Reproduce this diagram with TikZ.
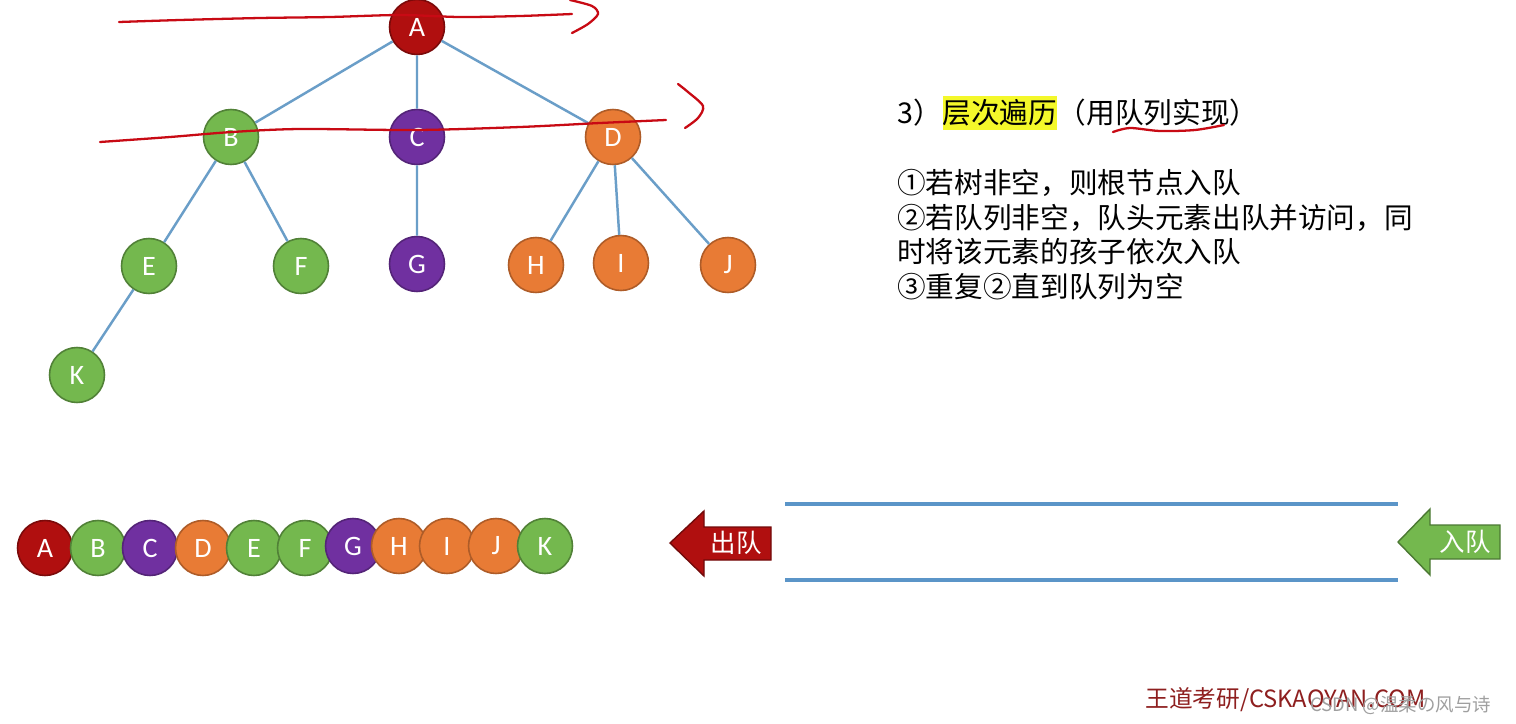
\documentclass[tikz,border=0pt]{standalone}
\usepackage{fontspec}
\setmainfont{Carlito}
\newfontfamily\cjk{Noto Sans CJK SC}
\usetikzlibrary{positioning}
\definecolor{nred}{HTML}{B00F0F}
\definecolor{ngreen}{HTML}{74B84E}
\definecolor{npurple}{HTML}{7030A0}
\definecolor{norange}{HTML}{E87B35}
\definecolor{edgeblue}{HTML}{6A9EC8}
\definecolor{qblue}{HTML}{5B95C8}
\definecolor{pen}{HTML}{C80A14}
\definecolor{hlyellow}{HTML}{F4F82A}
\definecolor{wmred}{HTML}{8E1F1F}
\tikzset{
  tnode/.style={circle, minimum size=1.1cm, inner sep=0pt, line width=0.9pt, text=white, font=\fontsize{16}{16}\selectfont},
  rednode/.style={tnode, fill=nred, draw=nred!70!black},
  greennode/.style={tnode, fill=ngreen, draw=ngreen!70!black},
  purplenode/.style={tnode, fill=npurple, draw=npurple!75!black},
  orangenode/.style={tnode, fill=norange, draw=norange!75!black},
  edge/.style={draw=edgeblue, line width=1.4pt},
  penline/.style={draw=pen, line width=1.3pt, line cap=round, line join=round},
  cjktext/.style={font=\cjk\fontsize{16.3}{19.8}\selectfont, inner sep=0pt, anchor=west},
}
\begin{document}
\begin{tikzpicture}[x=0.02cm, y=-0.02cm]
\useasboundingbox (0,0) rectangle (1516,724);
\fill[white] (0,0) rectangle (1516,724);

% tree
\node[rednode] (A) at (417,27) {A};
\node[greennode] (B) at (231,137) {B};
\node[purplenode] (C) at (417,137) {C};
\node[orangenode] (D) at (613,137) {D};
\node[greennode] (E) at (149,266) {E};
\node[greennode] (F) at (301,266) {F};
\node[purplenode] (G) at (417,264) {G};
\node[orangenode] (H) at (536,265) {H};
\node[orangenode] (I) at (621,263) {I};
\node[orangenode] (J) at (728,265) {J};
\node[greennode] (K) at (77,375) {K};
\path[edge] (A) -- (B) (A) -- (C) (A) -- (D)
  (B) -- (E) (B) -- (F) (C) -- (G)
  (D) -- (H) (D) -- (I) (D) -- (J) (E) -- (K);

% handwritten red strokes
\draw[penline] plot[smooth] coordinates {(119,22) (180,20) (260,18) (330,17) (400,15) (460,17) (520,16) (572,14)};
\draw[penline] plot[smooth] coordinates {(570,0) (592,6) (598,14) (588,24) (572,33)};
\draw[penline] plot[smooth] coordinates {(100,142) (170,137) (232,132) (300,129) (417,130) (520,127) (600,123) (666,120)};
\draw[penline] plot[smooth] coordinates {(678,84) (688,92) (703,106) (698,118) (685,128)};

% text block
\node[cjktext] (t3) at (897,113) {3）};
\node[cjktext, fill=hlyellow, inner ysep=2pt, right=0pt of t3] (hl) {层次遍历};
\node[cjktext, right=0pt of hl] (paren) {（用队列实现）};
\draw[penline] plot[smooth] coordinates {(1113,132) (1130,128) (1160,131) (1195,130) (1224,125)};
\node[cjktext] (s1) at (897,183) {①若树非空，则根节点入队};
\node[cjktext] (s2) at (897,218) {②若队列非空，队头元素出队并访问，同};
\node[cjktext] (s3) at (897,252) {时将该元素的孩子依次入队};
\node[cjktext] (s4) at (897,287) {③重复②直到队列为空};

% queue visit order
\node[rednode] (qA) at (45,548) {A};
\node[greennode] (qB) at (98,548) {B};
\node[purplenode] (qC) at (150,548) {C};
\node[orangenode] (qD) at (203,548) {D};
\node[greennode] (qE) at (254,548) {E};
\node[greennode] (qF) at (305,548) {F};
\node[purplenode] (qG) at (353,546) {G};
\node[orangenode] (qH) at (399,546) {H};
\node[orangenode] (qI) at (447,546) {I};
\node[orangenode] (qJ) at (496,546) {J};
\node[greennode] (qK) at (545,546) {K};

% queue tube
\coordinate (qt1) at (785,504);
\coordinate (qt2) at (1398,504);
\coordinate (qb1) at (785,580);
\coordinate (qb2) at (1398,580);
\draw[qblue, line width=2pt] (qt1) -- (qt2);
\draw[qblue, line width=2pt] (qb1) -- (qb2);

% dequeue arrow
\draw[fill=nred, draw=nred!65!black, line width=0.8pt, line join=miter]
  (771,527) -- (704,527) -- (704,511) -- (670,543) -- (704,576) -- (704,560) -- (771,560) -- cycle;
\node[font=\cjk\fontsize{14.5}{14.5}\selectfont, text=white, inner sep=0pt] (outq) at (736,543) {出队};
% enqueue arrow
\draw[fill=ngreen, draw=ngreen!65!black, line width=0.8pt, line join=miter]
  (1500,525) -- (1430,525) -- (1430,509) -- (1398,542) -- (1430,575) -- (1430,559) -- (1500,559) -- cycle;
\node[font=\cjk\fontsize{14.5}{14.5}\selectfont, text=white, inner sep=0pt] (inq) at (1465,542) {入队};

% watermarks
\node[font=\cjk\fontsize{13.5}{13.5}\selectfont, text=wmred, inner sep=0pt, anchor=west] (wm) at (1145,700) {王道考研/CSKAOYAN.COM};
\node[font=\cjk\fontsize{10.5}{10.5}\selectfont, text=gray!75, inner sep=0pt, anchor=west] (csdn) at (1310,705) {CSDN @温柔の风与诗};
\end{tikzpicture}
\end{document}
